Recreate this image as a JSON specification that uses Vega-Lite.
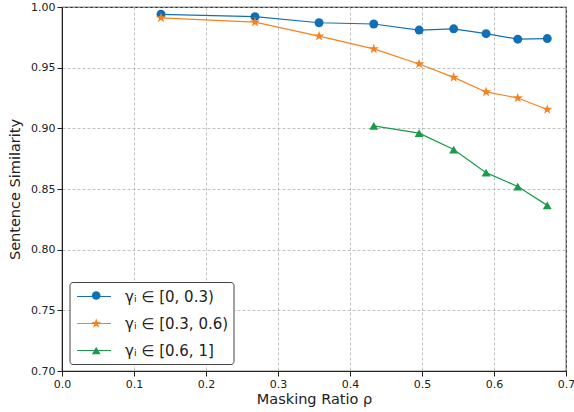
{
  "$schema": "https://vega.github.io/schema/vega-lite/v6.json",
  "width": 504,
  "height": 364,
  "autosize": "none",
  "padding": {"left": 62, "top": 7, "right": 8, "bottom": 41},
  "background": "white",
  "config": {
    "font": "DejaVu Sans",
    "view": {"stroke": "#222222", "strokeWidth": 1.2},
    "axis": {
      "domainColor": "#222222",
      "tickColor": "#222222",
      "labelColor": "#222222",
      "titleColor": "#222222",
      "labelFontSize": 11,
      "titleFontSize": 14.5,
      "titleFontWeight": "normal",
      "gridColor": "#b0b0b0",
      "gridDash": [3, 2],
      "gridWidth": 0.8,
      "tickSize": 5,
      "labelFlush": false
    }
  },
  "data": {
    "values": [
      {"s": "γᵢ ∈ [0, 0.3)", "x": 0.1375, "y": 0.994},
      {"s": "γᵢ ∈ [0, 0.3)", "x": 0.268, "y": 0.992},
      {"s": "γᵢ ∈ [0, 0.3)", "x": 0.357, "y": 0.987},
      {"s": "γᵢ ∈ [0, 0.3)", "x": 0.433, "y": 0.986},
      {"s": "γᵢ ∈ [0, 0.3)", "x": 0.496, "y": 0.981},
      {"s": "γᵢ ∈ [0, 0.3)", "x": 0.544, "y": 0.982},
      {"s": "γᵢ ∈ [0, 0.3)", "x": 0.589, "y": 0.978},
      {"s": "γᵢ ∈ [0, 0.3)", "x": 0.633, "y": 0.9735},
      {"s": "γᵢ ∈ [0, 0.3)", "x": 0.674, "y": 0.974},
      {"s": "γᵢ ∈ [0.3, 0.6)", "x": 0.1375, "y": 0.991},
      {"s": "γᵢ ∈ [0.3, 0.6)", "x": 0.268, "y": 0.9875},
      {"s": "γᵢ ∈ [0.3, 0.6)", "x": 0.357, "y": 0.976},
      {"s": "γᵢ ∈ [0.3, 0.6)", "x": 0.433, "y": 0.9655},
      {"s": "γᵢ ∈ [0.3, 0.6)", "x": 0.496, "y": 0.953},
      {"s": "γᵢ ∈ [0.3, 0.6)", "x": 0.544, "y": 0.942},
      {"s": "γᵢ ∈ [0.3, 0.6)", "x": 0.589, "y": 0.930},
      {"s": "γᵢ ∈ [0.3, 0.6)", "x": 0.633, "y": 0.925},
      {"s": "γᵢ ∈ [0.3, 0.6)", "x": 0.674, "y": 0.9155},
      {"s": "γᵢ ∈ [0.6, 1]", "x": 0.433, "y": 0.902},
      {"s": "γᵢ ∈ [0.6, 1]", "x": 0.496, "y": 0.896},
      {"s": "γᵢ ∈ [0.6, 1]", "x": 0.544, "y": 0.8825},
      {"s": "γᵢ ∈ [0.6, 1]", "x": 0.589, "y": 0.8635},
      {"s": "γᵢ ∈ [0.6, 1]", "x": 0.633, "y": 0.852},
      {"s": "γᵢ ∈ [0.6, 1]", "x": 0.674, "y": 0.8365}
    ]
  },
  "encoding": {
    "x": {
      "field": "x", "type": "quantitative",
      "scale": {"domain": [0, 0.7], "nice": false, "zero": false},
      "axis": {"values": [0, 0.1, 0.2, 0.3, 0.4, 0.5, 0.6, 0.7], "format": ".1f", "title": "Masking Ratio ρ", "titlePadding": 3}
    },
    "y": {
      "field": "y", "type": "quantitative",
      "scale": {"domain": [0.7, 1.0], "nice": false, "zero": false},
      "axis": {"values": [0.7, 0.75, 0.8, 0.85, 0.9, 0.95, 1.0], "format": ".2f", "title": "Sentence Similarity", "titlePadding": 8}
    }
  },
  "layer": [
    {
      "mark": {"type": "line", "strokeWidth": 1.2},
      "encoding": {
        "stroke": {
          "field": "s", "type": "nominal",
          "scale": {"domain": ["γᵢ ∈ [0, 0.3)", "γᵢ ∈ [0.3, 0.6)", "γᵢ ∈ [0.6, 1]"], "range": ["#1170b5", "#f5821f", "#1a9b4b"]},
          "legend": {
            "title": null,
            "orient": "none",
            "legendX": 7.5,
            "legendY": 275,
            "labelFontSize": 15,
            "labelColor": "#222222",
            "symbolType": "M-0.82,0H3.18",
            "symbolSize": 289,
            "symbolStrokeWidth": 1.2,
            "rowPadding": 9,
            "padding": 5,
            "labelOffset": 31.5,
            "strokeColor": "#444444",
            "fillColor": "white",
            "cornerRadius": 3
          }
        }
      }
    },
    {
      "mark": {"type": "point", "filled": true, "opacity": 1, "size": 80},
      "encoding": {
        "fill": {
          "field": "s", "type": "nominal",
          "scale": {"range": ["#1170b5", "#f5821f", "#1a9b4b"]},
          "legend": {
            "title": null,
            "orient": "none",
            "legendX": 21.7,
            "legendY": 276,
            "labelFontSize": 15,
            "labelExpr": "''",
            "symbolSize": 75,
            "symbolOpacity": 1,
            "rowPadding": 11,
            "padding": 5,
            "labelOffset": 10
          }
        },
        "shape": {
          "field": "s", "type": "nominal",
          "scale": {
            "range": ["circle", "M0,-1.2L0.27,-0.371L1.141,-0.371L0.436,0.142L0.706,0.971L0,0.458L-0.706,0.971L-0.436,0.142L-1.141,-0.371L-0.27,-0.371Z", "triangle-up"]
          },
          "legend": {
            "title": null,
            "orient": "none",
            "legendX": 21.7,
            "legendY": 276,
            "labelFontSize": 15,
            "labelExpr": "''",
            "symbolSize": 75,
            "symbolOpacity": 1,
            "rowPadding": 11,
            "padding": 5,
            "labelOffset": 10
          }
        }
      }
    }
  ]
}
